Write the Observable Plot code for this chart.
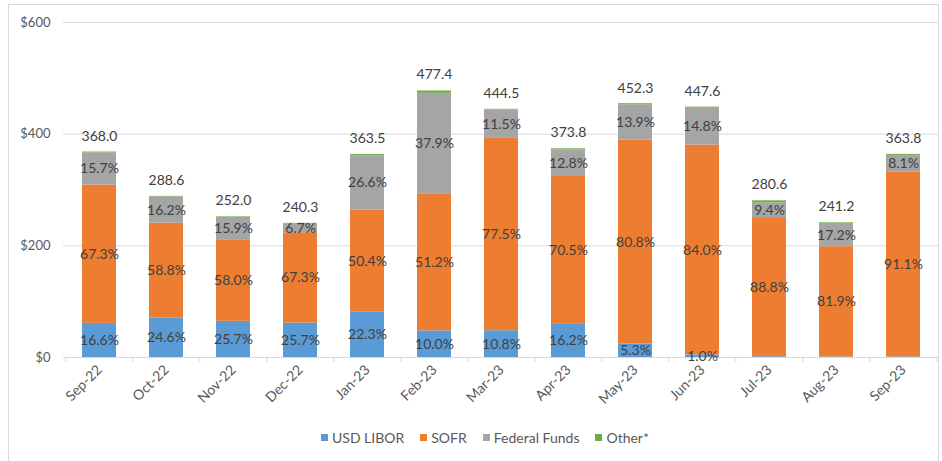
<!DOCTYPE html>
<html>
<head>
<meta charset="utf-8">
<script src="https://cdn.jsdelivr.net/npm/d3@7"></script>
<script src="https://cdn.jsdelivr.net/npm/@observablehq/plot@0.6"></script>
<style>
  body { margin: 0; background: #fff; font-family: Lato, "Open Sans", sans-serif; }
  #wrap { position: relative; width: 942px; height: 461px; overflow: hidden; }
  #frame { position: absolute; left: 8px; top: 4px; width: 931px; height: 470px; border: 1px solid #d9d9d9; box-sizing: border-box; }
  #chart { position: absolute; left: 0; top: 0; }
  #legend { position: absolute; left: 321px; top: 429px; display: flex; gap: 16px; font-size: 14px; color: #595959; }
  #legend span.item { display: flex; align-items: center; gap: 4px; }
  #legend i { display: inline-block; width: 7px; height: 7px; }
</style>
</head>
<body>
<div id="wrap">
  <div id="frame"></div>
  <div id="chart"></div>
  <div id="legend"></div>
</div>
<script>
const months = ["Sep-22","Oct-22","Nov-22","Dec-22","Jan-23","Feb-23","Mar-23","Apr-23","May-23","Jun-23","Jul-23","Aug-23","Sep-23"];
const totals = [368.0,288.6,252.0,240.3,363.5,477.4,444.5,373.8,452.3,447.6,280.6,241.2,363.8];
const liborPct = [16.6,24.6,25.7,25.7,22.3,10.0,10.8,16.2,5.3,1.0,0.5,0.4,0.3];
const sofrPct  = [67.3,58.8,58.0,67.3,50.4,51.2,77.5,70.5,80.8,84.0,88.8,81.9,91.1];
const fedPct   = [15.7,16.2,15.9,6.7,26.6,37.9,11.5,12.8,13.9,14.8,9.4,17.2,8.1];
const otherPct = [0.4,0.4,0.4,0.3,0.7,0.9,0.2,0.5,0.5,0.4,1.3,0.5,0.5];
const seriesNames = ["USD LIBOR","SOFR","Federal Funds","Other*"];
const seriesColors = ["#5B9BD5","#ED7D31","#A5A5A5","#70AD47"];
const yTicks = [0,200,400,600];

const pctSets = [liborPct, sofrPct, fedPct, otherPct];
const rows = [];
months.forEach((m, i) => {
  seriesNames.forEach((s, j) => {
    const pct = pctSets[j][i];
    rows.push({month: m, series: s, pct, value: totals[i] * pct / 100});
  });
});
const totalRows = months.map((m, i) => ({month: m, total: totals[i]}));

const W = 942, H = 420, ML = 63, MR = 4, MT = 22, MB = 63;
const step = (W - ML - MR) / months.length;

const chart = Plot.plot({
  width: W, height: H,
  marginLeft: ML, marginRight: MR, marginTop: MT, marginBottom: MB,
  style: {fontFamily: "Lato, 'Open Sans', sans-serif", fontSize: "14px", color: "#595959", background: "transparent"},
  x: {domain: months, paddingInner: 0.5, paddingOuter: 0.25, label: null},
  y: {domain: [0, 600], label: null},
  color: {domain: seriesNames, range: seriesColors},
  marks: [
    Plot.ruleY(yTicks.filter(d => d > 0), {stroke: "#d9d9d9", strokeWidth: 1}),
    Plot.axisY({ticks: yTicks, tickSize: 0, tickPadding: 13, tickFormat: d => "$" + d, fontSize: 13, fill: "#595959"}),
    Plot.barY(rows, {x: "month", y: "value", fill: "series", order: seriesNames, inset: 0}),
    Plot.ruleY([0], {stroke: "#d9d9d9", strokeWidth: 1}),
    Plot.ruleX(months, {x: d => d, y1: 0, y2: 0, dx: -step / 2, insetBottom: -5, stroke: "#d9d9d9"}),
    Plot.ruleX([months[months.length - 1]], {x: d => d, dx: step / 2, insetBottom: -5, y1: 0, y2: 0, stroke: "#d9d9d9"}),
    Plot.axisX({tickSize: 0, tickPadding: 10, tickRotate: -45, fontSize: 14, fill: "#595959", label: null}),
    Plot.text(rows, Plot.stackY({
      x: "month", y: "value", z: "series", order: seriesNames,
      text: d => (d.series !== "Other*" && d.pct >= 1) ? d.pct.toFixed(1) + "%" : "",
      fill: "#404040", fontSize: 14
    })),
    Plot.text(totalRows, {x: "month", y: "total", text: d => d.total.toFixed(1), dy: -16, fill: "#404040", fontSize: 14})
  ]
});
document.getElementById("chart").appendChild(chart);

const legend = document.getElementById("legend");
seriesNames.forEach((s, j) => {
  const item = document.createElement("span");
  item.className = "item";
  const sw = document.createElement("i");
  sw.style.background = seriesColors[j];
  item.appendChild(sw);
  item.appendChild(document.createTextNode(s));
  legend.appendChild(item);
});
</script>
</body>
</html>
